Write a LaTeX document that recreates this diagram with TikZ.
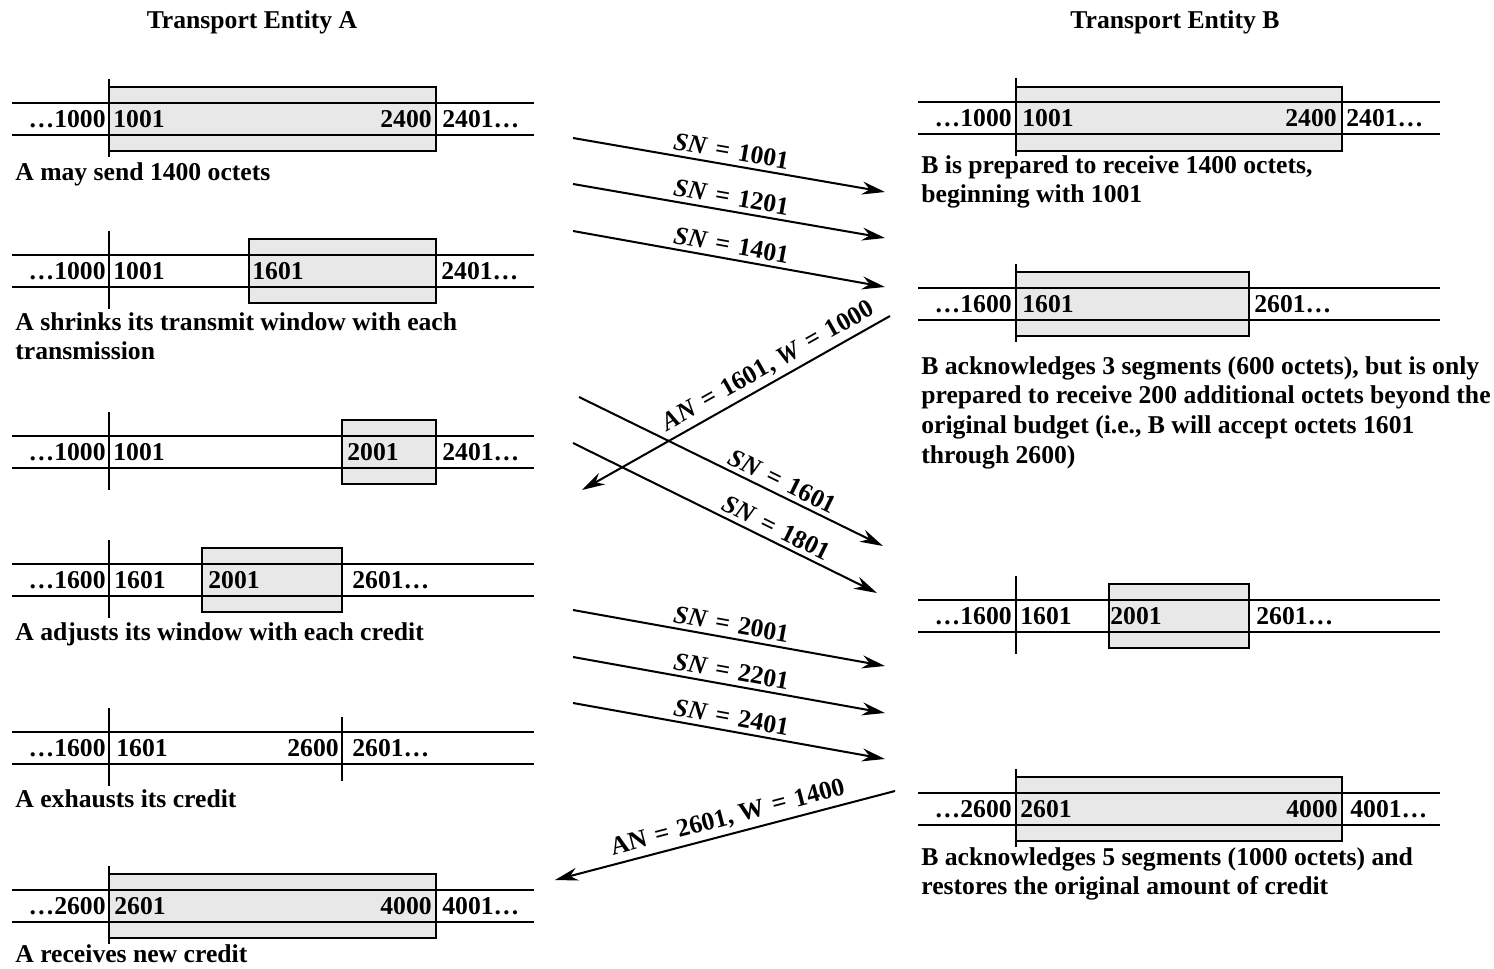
\documentclass[tikz,border=0pt]{standalone}
\usepackage{fontspec}
\setmainfont{Liberation Serif}
\usetikzlibrary{arrows.meta}

\newcommand{\eqsp}{\hspace{0.33em}=\hspace{0.33em}}

\begin{document}
\begin{tikzpicture}[
    x=0.02cm, y=-0.02cm,
    every node/.style={
        font=\fontsize{14.6}{16.9}\selectfont\bfseries,
        inner sep=0pt
    },
    track/.style={line width=0.85pt, draw=black},
    win/.style={draw=black, line width=0.6pt, fill=black!9},
    sepline/.style={line width=0.85pt},
    numl/.style={anchor=west},
    numr/.style={anchor=east},
    caption/.style={anchor=north west, align=left},
    head/.style={font=\fontsize{14.6}{17}\selectfont\bfseries},
    msg/.style={
        -{Stealth[length=4.6mm,width=2.6mm]},
        line width=1.15pt
    },
    lbl/.style={sloped, above=2.5pt, font=\fontsize{14.6}{17}\selectfont\bfseries}
]
\useasboundingbox (0,0) rectangle (1494,969);

% Headings
\node[head] (headA) at (252,22) {Transport Entity A};
\node[head] (headB) at (1175,22) {Transport Entity B};

% Windows (shaded)
\draw[win] (109,87) rectangle (436,151);
\draw[win] (249,239) rectangle (436,303);
\draw[win] (342,420) rectangle (436,484);
\draw[win] (202,548) rectangle (342,612);
\draw[win] (109,874) rectangle (436,938);
\draw[win] (1016,87) rectangle (1342,151);
\draw[win] (1016,272) rectangle (1249,336);
\draw[win] (1109,584) rectangle (1249,648);
\draw[win] (1016,777) rectangle (1342,841);

% Sequence tracks, side A
\foreach \yc in {119,271,452,580,748,906} {
    \draw[track] (12,\yc-16) -- (534,\yc-16);
    \draw[track] (12,\yc+16) -- (534,\yc+16);
    \draw[sepline] (109,\yc-40) -- (109,\yc+38);
}
\draw[sepline] (342,717) -- (342,781);

% Sequence tracks, side B
\foreach \yc in {118,304,616,809} {
    \draw[track] (918,\yc-16) -- (1440,\yc-16);
    \draw[track] (918,\yc+16) -- (1440,\yc+16);
    \draw[sepline] (1016,\yc-40) -- (1016,\yc+38);
}

% Side A numbers
\node[numr] (a1l) at (106,119) {…1000};
\node[numl] (a1m) at (113,119) {1001};
\node[numr] (a1n) at (432,119) {2400};
\node[numl] (a1r) at (442,119) {2401…};

\node[numr] (a2l) at (106,271) {…1000};
\node[numl] (a2m) at (113,271) {1001};
\node[numl] (a2n) at (252,271) {1601};
\node[numl] (a2r) at (441,271) {2401…};

\node[numr] (a3l) at (106,452) {…1000};
\node[numl] (a3m) at (113,452) {1001};
\node[numl] (a3n) at (347,452) {2001};
\node[numl] (a3r) at (442,452) {2401…};

\node[numr] (a4l) at (106,580) {…1600};
\node[numl] (a4m) at (114,580) {1601};
\node[numl] (a4n) at (208,580) {2001};
\node[numl] (a4r) at (352,580) {2601…};

\node[numr] (a5l) at (106,748) {…1600};
\node[numl] (a5m) at (116,748) {1601};
\node[numr] (a5n) at (339,748) {2600};
\node[numl] (a5r) at (352,748) {2601…};

\node[numr] (a6l) at (106,906) {…2600};
\node[numl] (a6m) at (114,906) {2601};
\node[numr] (a6n) at (432,906) {4000};
\node[numl] (a6r) at (442,906) {4001…};

% Side B numbers
\node[numr] (b1l) at (1012,118) {…1000};
\node[numl] (b1m) at (1022,118) {1001};
\node[numr] (b1n) at (1337,118) {2400};
\node[numl] (b1r) at (1346,118) {2401…};

\node[numr] (b2l) at (1012,304) {…1600};
\node[numl] (b2m) at (1022,304) {1601};
\node[numl] (b2r) at (1254,304) {2601…};

\node[numr] (b3l) at (1012,616) {…1600};
\node[numl] (b3m) at (1020,616) {1601};
\node[numl] (b3n) at (1110,616) {2001};
\node[numl] (b3r) at (1256,616) {2601…};

\node[numr] (b4l) at (1012,809) {…2600};
\node[numl] (b4m) at (1020,809) {2601};
\node[numr] (b4n) at (1338,809) {4000};
\node[numl] (b4r) at (1350,809) {4001…};

% Captions
\node[caption] (capA1) at (15,162) {A may send 1400 octets};
\node[caption] (capA2) at (15,312) {A shrinks its transmit window with each\\transmission};
\node[caption] (capA4) at (15,622) {A adjusts its window with each credit};
\node[caption] (capA5) at (15,789) {A exhausts its credit};
\node[caption] (capA6) at (15,944) {A receives new credit};
\node[caption] (capB1) at (921,155) {B is prepared to receive 1400 octets,\\beginning with 1001};
\node[caption] (capB2) at (921,356) {B acknowledges 3 segments (600 octets), but is only\\prepared to receive 200 additional octets beyond the\\original budget (i.e., B will accept octets 1601\\through 2600)};
\node[caption] (capB4) at (921,847) {B acknowledges 5 segments (1000 octets) and\\restores the original amount of credit};

% Segment and ack end points
\coordinate (s1a) at (573,138); \coordinate (s1b) at (885,192);
\coordinate (s2a) at (573,184); \coordinate (s2b) at (885,238);
\coordinate (s3a) at (573,231); \coordinate (s3b) at (885,287);
\coordinate (k1a) at (890,316); \coordinate (k1b) at (582,490);
\coordinate (s4a) at (579,397); \coordinate (s4b) at (883,546);
\coordinate (s5a) at (573,443); \coordinate (s5b) at (877,593);
\coordinate (s6a) at (573,610); \coordinate (s6b) at (885,666);
\coordinate (s7a) at (573,657); \coordinate (s7b) at (885,713);
\coordinate (s8a) at (573,703); \coordinate (s8b) at (885,759);
\coordinate (k2a) at (895,791); \coordinate (k2b) at (555,880);

% Segments A -> B
\draw[msg] (s1a) -- node[lbl, pos=0.5] {\textit{SN}\eqsp 1001} (s1b);
\draw[msg] (s2a) -- node[lbl, pos=0.5] {\textit{SN}\eqsp 1201} (s2b);
\draw[msg] (s3a) -- node[lbl, pos=0.5] {\textit{SN}\eqsp 1401} (s3b);
\draw[msg] (s4a) -- node[lbl, pos=0.65] {\textit{SN}\eqsp 1601} (s4b);
\draw[msg] (s5a) -- node[lbl, pos=0.65] {\textit{SN}\eqsp 1801} (s5b);
\draw[msg] (s6a) -- node[lbl, pos=0.5] {\textit{SN}\eqsp 2001} (s6b);
\draw[msg] (s7a) -- node[lbl, pos=0.5] {\textit{SN}\eqsp 2201} (s7b);
\draw[msg] (s8a) -- node[lbl, pos=0.5] {\textit{SN}\eqsp 2401} (s8b);

% Acknowledgements B -> A
\draw[msg] (k1a) -- node[lbl, pos=0.37] {\textit{AN}\eqsp 1601, \textit{W}\eqsp 1000} (k1b);
\draw[msg] (k2a) -- node[lbl, pos=0.48] {AN\eqsp 2601, W\eqsp 1400} (k2b);

\end{tikzpicture}
\end{document}
